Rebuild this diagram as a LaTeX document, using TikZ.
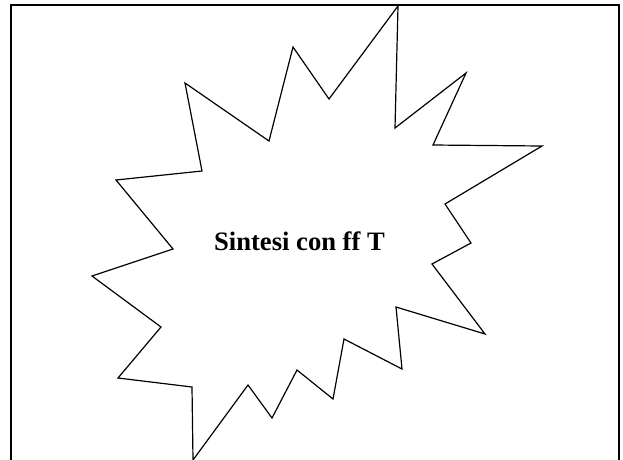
\documentclass[tikz,border=0pt]{standalone}
\usepackage{fontspec}
\setmainfont{Liberation Serif}
\usetikzlibrary{positioning}

\begin{document}
\begin{tikzpicture}[
    x=1pt, y=-1pt,
    frame/.style={draw=black, line width=2pt},
    burst/.style={draw=black, line width=1.2pt, line join=miter, fill=white},
    title/.style={font=\fontsize{26.6}{30}\selectfont\bfseries, inner sep=0pt, anchor=base},
  ]

  % --- Canvas ---
  \clip (0,0) rectangle (623,459);

  % --- Frame ---
  \draw[frame] (11,5) rectangle (619,480);

  % --- Explosion ---
  \draw[burst] (398,6) -- (395,128) -- (466,73) -- (433,145) -- (542,146)
    -- (445,204) -- (471,243) -- (432,264) -- (485,334) -- (396,307)
    -- (402,369) -- (344,339) -- (333,399) -- (297,370) -- (272,418)
    -- (248,385) -- (193,460) -- (192,387) -- (118,378) -- (161,327)
    -- (92,276) -- (173,249) -- (116,180) -- (202,171) -- (185,83)
    -- (269,141) -- (293,47) -- (329,99) -- cycle;

  % --- Label ---
  \node[title] (label) at (299.5,250) {Sintesi con ff T};
\end{tikzpicture}
\end{document}
